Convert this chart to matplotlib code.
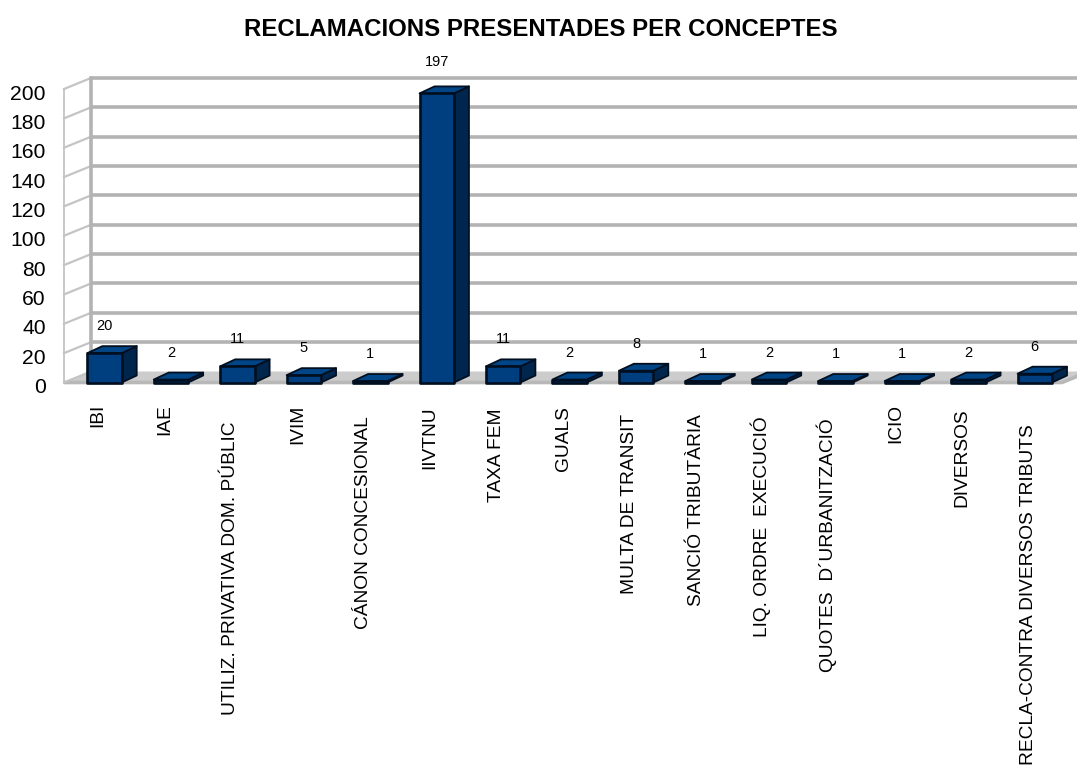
import matplotlib
matplotlib.use("Agg")
import matplotlib.pyplot as plt
from matplotlib.patches import Polygon
from matplotlib.transforms import ScaledTranslation

plt.rcParams['font.family'] = ['Liberation Sans', 'DejaVu Sans']

TITLE = "RECLAMACIONS PRESENTADES PER CONCEPTES"
categories = ["IBI", "IAE", "UTILIZ. PRIVATIVA DOM. PÚBLIC", "IVIM", "CÁNON CONCESIONAL",
              "IIVTNU", "TAXA FEM", "GUALS", "MULTA DE TRANSIT", "SANCIÓ TRIBUTÀRIA",
              "LIQ. ORDRE  EXECUCIÓ", "QUOTES  D´URBANITZACIÓ", "ICIO", "DIVERSOS",
              "RECLA-CONTRA DIVERSOS TRIBUTS"]
values = [20, 2, 11, 5, 1, 197, 11, 2, 8, 1, 2, 1, 1, 2, 6]
yticks = list(range(0, 201, 20))

W, H, DPI = 1077, 769, 100
fig = plt.figure(figsize=(W / DPI, H / DPI), dpi=DPI, facecolor="white")

# front plane of the 3D box, in pixels
L, R, T, B = 64, 1062, 89, 382.5
ax = fig.add_axes([L / W, 1 - B / H, (R - L) / W, (B - T) / H])
step = 66.45
first_center = 104.5
x0 = (L - first_center) / step
ax.set_xlim(x0, x0 + (R - L) / step)
ax.set_ylim(0, 200)
ax.patch.set_visible(False)
for s in ax.spines.values():
    s.set_visible(False)

px_x = (R - L) / (ax.get_xlim()[1] - ax.get_xlim()[0])
px_y = (B - T) / 200
box_dx, box_dy = 27 / px_x, 11 / px_y       # depth of the box
bar_dx, bar_dy = 15 / px_x, 7 / px_y        # depth of a bar
half = 17.2 / px_x

GRID = "#b3b3b3"
WALL = "#c4c4c4"
xl, xr = ax.get_xlim()

# floor
ax.add_patch(Polygon([(xl, 0), (xr, 0), (xr + box_dx, box_dy), (xl + box_dx, box_dy)],
                     closed=True, fc="#cccccc", ec="none", clip_on=False, zorder=1))
ax.plot([xl, xr, xr + box_dx], [0, 0, box_dy], color="#b8b8b8", lw=2.6, clip_on=False, zorder=1.5,
        solid_capstyle="butt")
ax.plot([xl, xl], [0, 200], color=WALL, lw=1.3, clip_on=False, zorder=1)
ax.plot([xl + box_dx] * 2, [box_dy, 200 + box_dy], color=GRID, lw=2.6, clip_on=False, zorder=2)
for v in yticks:
    ax.plot([xl, xl + box_dx], [v, v + box_dy], color=WALL, lw=1.6, clip_on=False, zorder=1.5)
    if v > 0:
        ax.plot([xl + box_dx, xr + box_dx], [v + box_dy] * 2, color=GRID, lw=2.6,
                clip_on=False, zorder=2, solid_capstyle="butt")

# bars
FRONT, TOP, SIDE, EDGE = "#003f7f", "#004586", "#00264d", "#000f20"
for i, v in enumerate(values):
    a, b = i - half, i + half
    ax.add_patch(Polygon([(b, 0), (b + bar_dx, bar_dy), (b + bar_dx, v + bar_dy), (b, v)],
                         closed=True, fc=SIDE, ec=EDGE, lw=1.3, clip_on=False, zorder=3, joinstyle="round"))
    ax.add_patch(Polygon([(a, v), (b, v), (b + bar_dx, v + bar_dy), (a + bar_dx, v + bar_dy)],
                         closed=True, fc=TOP, ec=EDGE, lw=1.3, clip_on=False, zorder=3, joinstyle="round"))
    ax.add_patch(Polygon([(a, 0), (b, 0), (b, v), (a, v)],
                         closed=True, fc=FRONT, ec=EDGE, lw=1.9, clip_on=False, zorder=4, joinstyle="round"))
    ax.annotate(str(v), (i, v), xytext=(0, (27 + 4 * v / 197) * 0.72), textcoords="offset points",
                ha="center", va="center", fontsize=10.5, color="black", zorder=5)

# axes labels
ax.set_yticks(yticks)
ax.set_yticklabels([str(v) for v in yticks], fontsize=15.2, color="black")
ax.tick_params(axis="y", length=0, pad=13)
for lab in ax.get_yticklabels():
    lab.set_transform(lab.get_transform() + ScaledTranslation(0, -3 / DPI, fig.dpi_scale_trans))

ax.set_xticks(range(len(categories)))
ax.set_xticklabels(categories, rotation=90, fontsize=13.8, color="black",
                   ha="right", va="baseline", rotation_mode="anchor")
ax.tick_params(axis="x", length=0, pad=14)
fig.canvas.draw()
for lab in ax.get_xticklabels():
    drop = 0.065 * lab.get_window_extent().height   # longer labels start lower in the reference
    lab.set_transform(lab.get_transform() + ScaledTranslation(-2 / DPI, -drop / DPI, fig.dpi_scale_trans))

fig.text(541 / W, 1 - 29.5 / H, TITLE, ha="center", va="center", fontsize=17.3, fontweight="bold", color="black")

fig.savefig("out.png", dpi=DPI, facecolor="white")
